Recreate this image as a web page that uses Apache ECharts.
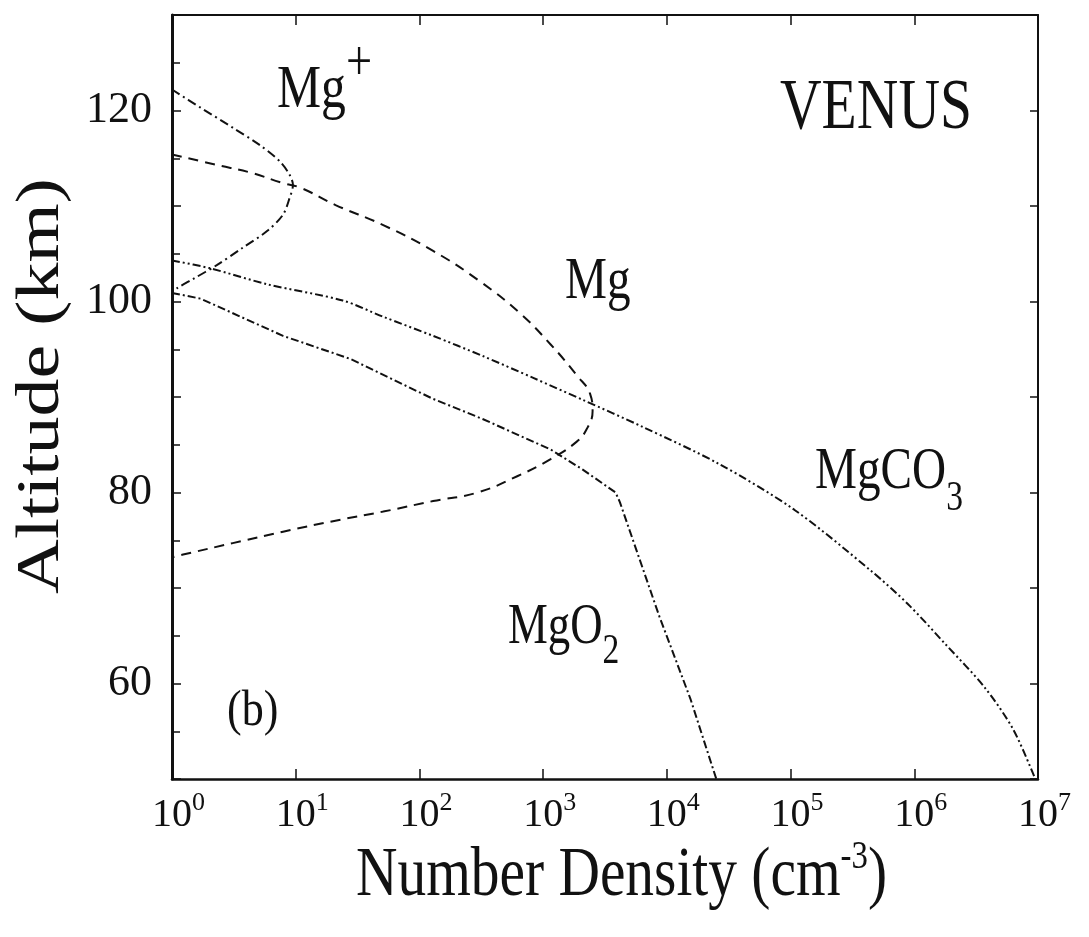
<!DOCTYPE html>
<html>
<head>
<meta charset="utf-8">
<script src="https://cdn.jsdelivr.net/npm/echarts@6/dist/echarts.min.js"></script>
<style>
html,body{margin:0;padding:0;background:#fff;}
#chart{width:1089px;height:937px;}
</style>
</head>
<body>
<div id="chart"></div>
<script>
// ---- Data (number density in cm^-3, altitude in km) ----
const mgPlusDensity = [1.0, 1.7, 3.1, 5.1, 7.4, 8.9, 9.5, 8.9, 7.9, 5.9, 3.7, 2.3, 1.5, 1.1, 1.0];
const mgPlusAltitude = [122.2, 120.3, 118.2, 116.4, 114.7, 113.3, 112.2, 110.8, 109.1, 107.4, 105.6, 103.8, 102.4, 101.4, 101.0];

const mgDensity = [1, 2.3, 4.3, 7.9, 11, 21, 51, 129, 309, 646, 1150, 1860, 2400, 2510, 2240, 1860, 1150, 617, 295, 129, 51, 20, 7.9, 3.1, 1.23, 1];
const mgAltitude = [115.4, 114.3, 113.5, 112.4, 111.9, 110.1, 108, 105.3, 102.1, 98.8, 95.5, 92.3, 90.3, 88.5, 86.6, 85.3, 83.5, 81.7, 80, 79.1, 78, 77, 75.9, 74.7, 73.5, 73.2];

const mgco3Density = [1, 2.0, 5.9, 24, 51, 129, 324, 832, 2090, 6310, 26300, 107000, 447000, 891000, 1.82e6, 3.7e6, 6.3e6, 9.5e6];
const mgco3Altitude = [104.3, 103.5, 101.8, 100.1, 98.4, 96.4, 94.3, 92.0, 89.7, 86.9, 83.0, 78.2, 71.8, 68.3, 64.0, 59.6, 55.2, 50];

const mgo2Density = [1, 1.7, 7.9, 27.5, 129, 324, 1150, 2090, 3850, 4170, 5010, 8710, 15500, 25100];
const mgo2Altitude = [100.9, 100.3, 96.4, 94, 89.8, 87.7, 84.5, 82.4, 80.0, 79.0, 76.0, 67.0, 58.4, 50];

const yTickLabels = [60, 80, 100, 120];
const xDecades = [0, 1, 2, 3, 4, 5, 6, 7];

const FONT = '"Liberation Serif", "Times New Roman", serif';
const INK = '#111';

function zip(xs, ys) { return xs.map((x, i) => [x, ys[i]]); }

const chart = echarts.init(document.getElementById('chart'), null, {renderer: 'canvas'});

const gridLeft = 172, gridRight = 51, gridTop = 15, gridBottom = 158;

function lineSeries(name, xs, ys, dash, smooth) {
  return {
    name: name,
    type: 'line',
    xAxisIndex: 0, yAxisIndex: 0,
    data: zip(xs, ys),
    showSymbol: false,
    symbol: 'none',
    smooth: smooth,
    clip: true,
    lineStyle: {color: INK, width: 2, type: dash},
    silent: true
  };
}

function label(x, y, text, size, rich, extra) {
  return Object.assign({
    type: 'text', x: x, y: y, scaleX: 0.8, silent: true,
    style: {text: text, fontFamily: FONT, fontSize: size, fill: INK, align: 'left', verticalAlign: 'middle', rich: rich || {}}
  }, extra || {});
}

const option = {
  animation: false,
  backgroundColor: '#fff',
  grid: {left: gridLeft, right: gridRight, top: gridTop, bottom: gridBottom, containLabel: false},
  xAxis: [{
    type: 'log', logBase: 10, min: 1, max: 1e7, position: 'bottom',
    axisLine: {show: true, onZero: false, lineStyle: {color: INK, width: 2.5}},
    axisTick: {show: true, inside: true, length: 10, lineStyle: {color: INK, width: 1.5}},
    minorTick: {show: false},
    splitLine: {show: false},
    axisLabel: {
      show: true, margin: 11,
      formatter: function (v) {
        const e = Math.round(Math.log10(v));
        return xDecades.indexOf(e) >= 0 ? '{p|}{b|10}{s|' + e + '}' : '';
      },
      rich: {
        p: {width: 13},
        b: {fontFamily: FONT, fontSize: 40, lineHeight: 50, color: INK},
        s: {fontFamily: FONT, fontSize: 26, lineHeight: 26, verticalAlign: 'top', color: INK}
      }
    }
  }, {
    type: 'log', logBase: 10, min: 1, max: 1e7, position: 'top',
    axisLine: {show: true, onZero: false, lineStyle: {color: INK, width: 2}},
    axisTick: {show: true, inside: true, length: 10, lineStyle: {color: INK, width: 1.5}},
    axisLabel: {show: false},
    splitLine: {show: false}
  }],
  yAxis: [{
    type: 'value', min: 50, max: 130, interval: 10, position: 'left',
    axisLine: {show: true, onZero: false, lineStyle: {color: INK, width: 3}},
    axisTick: {show: true, inside: true, length: 9, lineStyle: {color: INK, width: 1.5}},
    minorTick: {show: true, splitNumber: 2, length: 8, lineStyle: {color: INK, width: 1.5}},
    splitLine: {show: false},
    axisLabel: {
      show: true, margin: 20, color: INK, fontFamily: FONT, fontSize: 44,
      formatter: function (v) { return yTickLabels.indexOf(v) >= 0 ? String(v) : ''; }
    }
  }, {
    type: 'value', min: 50, max: 130, interval: 10, position: 'right',
    axisLine: {show: true, onZero: false, lineStyle: {color: INK, width: 2}},
    axisTick: {show: true, inside: true, length: 8, lineStyle: {color: INK, width: 1.5}},
    axisLabel: {show: false},
    splitLine: {show: false}
  }],
  series: [
    lineSeries('Mg+', mgPlusDensity, mgPlusAltitude, [9, 4, 2, 4], 0.3),
    lineSeries('Mg', mgDensity, mgAltitude, [10, 7], 0.45),
    lineSeries('MgCO3', mgco3Density, mgco3Altitude, [8, 3, 2, 3, 2, 3], 0.3),
    lineSeries('MgO2', mgo2Density, mgo2Altitude, [8, 3, 2, 3], false)
  ],
  graphic: [
    label(780, 109, 'VENUS', 72),
    label(277, 91, '{b|Mg}{sup|+}', 62, {
      b: {fontFamily: FONT, fontSize: 62, lineHeight: 110, fill: INK},
      sup: {fontFamily: FONT, fontSize: 58, verticalAlign: 'top', fill: INK}
    }),
    label(565, 282, 'Mg', 59),
    label(815, 472, '{b|MgCO}{sub|3}', 59, {
      b: {fontFamily: FONT, fontSize: 59, lineHeight: 96, fill: INK},
      sub: {fontFamily: FONT, fontSize: 42, verticalAlign: 'bottom', fill: INK}
    }),
    label(508, 628, '{b|MgO}{sub|2}', 56, {
      b: {fontFamily: FONT, fontSize: 56, lineHeight: 90, fill: INK},
      sub: {fontFamily: FONT, fontSize: 42, verticalAlign: 'bottom', fill: INK}
    }),
    label(227, 712, '(b)', 50, null, {scaleX: 0.88}),
    label(356, 877, '{b|Number Density (cm}{sup|-3}{b|)}', 70, {
      b: {fontFamily: FONT, fontSize: 70, lineHeight: 80, fill: INK},
      sup: {fontFamily: FONT, fontSize: 40, verticalAlign: 'top', fill: INK}
    }, {scaleX: 0.82}),
    {type: 'text', x: 42, y: 386, rotation: Math.PI / 2, scaleY: 0.8, silent: true,
      style: {text: 'Altitude (km)', fontFamily: FONT, fontSize: 76, fill: INK, align: 'center', verticalAlign: 'middle'}}
  ]
};

chart.setOption(option);
</script>
</body>
</html>
